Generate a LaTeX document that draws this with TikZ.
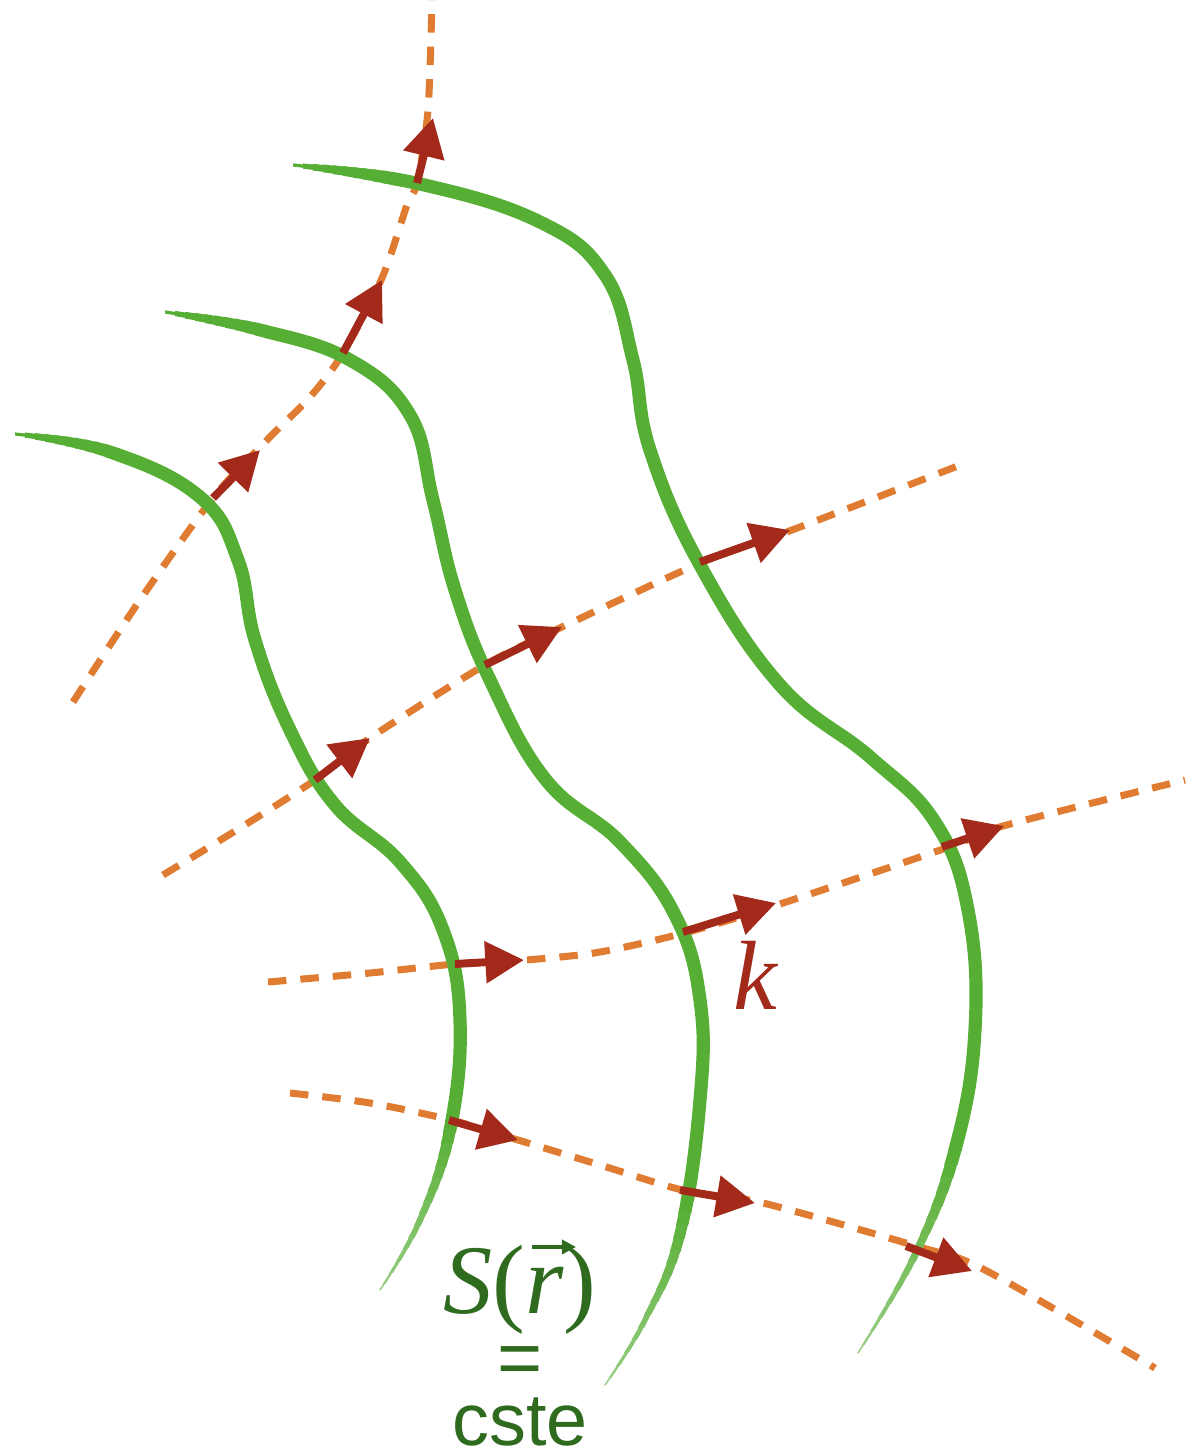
\documentclass[tikz,border=0pt]{standalone}
\usepackage{amsmath}
\usepackage{fontspec}
\setmainfont{Liberation Serif}
\setsansfont{Liberation Sans}
\usepackage{tikz}
\usetikzlibrary{arrows.meta}
\definecolor{wfgreen}{HTML}{56AE34}
\definecolor{txgreen}{HTML}{2F6B1E}
\definecolor{rayorange}{HTML}{E07C32}
\definecolor{kred}{HTML}{A3291B}
% brush stroke: #1 points, #2 x of the thin head, #3 y where the tail starts, #4 y of the tail end
\newcommand{\wavefront}[4]{%
  \begin{scope}
    \clip (#2+100,0) rectangle (1190,#3);
    \draw[front] plot[smooth, tension=0.7] coordinates {#1};
  \end{scope}
  \foreach \i in {0,...,9}{
    \pgfmathsetmacro{\xa}{#2+10*\i}
    \pgfmathsetmacro{\wd}{7.5*sqrt((\i+0.6)/10)}
    \begin{scope}
      \clip (\xa,0) rectangle (\xa+10.6,#3);
      \draw[front, line width=\wd pt] plot[smooth, tension=0.7] coordinates {#1};
    \end{scope}
  }
  \foreach \j in {0,...,14}{
    \pgfmathsetmacro{\ya}{#3+(#4-#3)*\j/15}
    \pgfmathsetmacro{\yb}{#3+(#4-#3)*(\j+1)/15+0.6}
    \pgfmathsetmacro{\wd}{7.5-6.9*(\j+0.5)/15}
    \pgfmathtruncatemacro{\tint}{100-40*\j/15}
    \begin{scope}
      \clip (0,\ya) rectangle (1190,\yb);
      \draw[front, line width=\wd pt, draw=wfgreen!\tint] plot[smooth, tension=0.7] coordinates {#1};
    \end{scope}
  }
}

\begin{document}
\begin{tikzpicture}[
    x=0.02cm, y=-0.02cm,
    front/.style={draw=wfgreen, line width=7.5pt, line cap=round},
    ray/.style={draw=rayorange, line width=4pt, dash pattern=on 10.5pt off 8pt},
    kvec/.style={-{Triangle[length=22pt,width=23pt]}, line width=4.5pt, kred},
    rvec/.style={-{Triangle[length=8pt,width=8pt]}, line width=2.2pt, txgreen},
    big/.style={font=\fontsize{56}{60}\selectfont},
]
\useasboundingbox (0,0) rectangle (1190,1454);

% Rays
\draw[ray] plot[smooth] coordinates {(73,702) (140,600) (213,498) (267,440) (310,397) (343,353) (382,278) (407,205) (417,183) (428,110) (432,0)};
\draw[ray] plot[smooth] coordinates {(163,875) (240,828) (315,780) (370,738) (485,665) (562,627) (705,561) (792,530) (968,462)};
\draw[ray] plot[smooth] coordinates {(268,982) (370,973) (455,964) (526,960) (600,952) (688,932) (783,903) (949,847) (1003,826) (1185,780)};
\draw[ray] plot[smooth] coordinates {(290,1093) (370,1103) (451,1120) (518,1140) (600,1165) (686,1191) (763,1203) (916,1246) (985,1270) (1155,1368)};

% Wavefronts
\wavefront{(15,434) (110,452) (200,497) (238,560) (255,640) (290,730) (335,805) (400,862) (443,930) (460,1020) (450,1130) (420,1220) (380,1290)}{15}{1120}{1295}
\wavefront{(165,312) (260,330) (350,360) (410,415) (433,500) (455,590) (490,680) (546,780) (620,842) (675,915) (700,1000) (700,1100) (680,1234) (645,1320) (605,1385)}{165}{1200}{1390}
\wavefront{(293,165) (420,184) (540,222) (605,275) (633,360) (650,450) (700,565) (780,685) (870,757) (935,822) (968,910) (975,1030) (955,1150) (915,1255) (858,1353)}{293}{1150}{1358}

% Crossings
\coordinate (a1) at (213,498); \coordinate (a1t) at (260,450);
\coordinate (a2) at (343,353); \coordinate (a2t) at (382,280);
\coordinate (a3) at (417,183); \coordinate (a3t) at (433,118);
\coordinate (b1) at (315,780); \coordinate (b1t) at (370,738);
\coordinate (b2) at (485,665); \coordinate (b2t) at (562,627);
\coordinate (b3) at (700,562); \coordinate (b3t) at (790,530);
\coordinate (c1) at (455,964); \coordinate (c1t) at (524,960);
\coordinate (c2) at (683,932); \coordinate (c2t) at (776,903);
\coordinate (c3) at (942,847); \coordinate (c3t) at (1004,826);
\coordinate (d1) at (449,1120); \coordinate (d1t) at (518,1140);
\coordinate (d2) at (680,1190); \coordinate (d2t) at (755,1203);
\coordinate (d3) at (906,1246); \coordinate (d3t) at (972,1271);

% Wave vectors
\foreach \p in {a1,a2,a3,b1,b2,b3,c1,c2,c3,d1,d2,d3}
  \draw[kvec] (\p) -- (\p t);

% Labels
\node[big, text=kred] (klab) at (755,975) {\itshape k};
\node[big, text=txgreen, anchor=base] (surf) at (520,1313) {\itshape S\/\upshape(\itshape r\/\upshape)};
\draw[rvec] (surf.base) ++(12,-66) coordinate (rv) -- ++(44,0);
\node[text=txgreen, font=\sffamily\fontsize{44}{48}\selectfont] (eq) at (520,1366) {=};
\node[text=txgreen, font=\sffamily\fontsize{42}{46}\selectfont, anchor=base] (cste) at (520,1445) {cste};
\end{tikzpicture}
\end{document}
